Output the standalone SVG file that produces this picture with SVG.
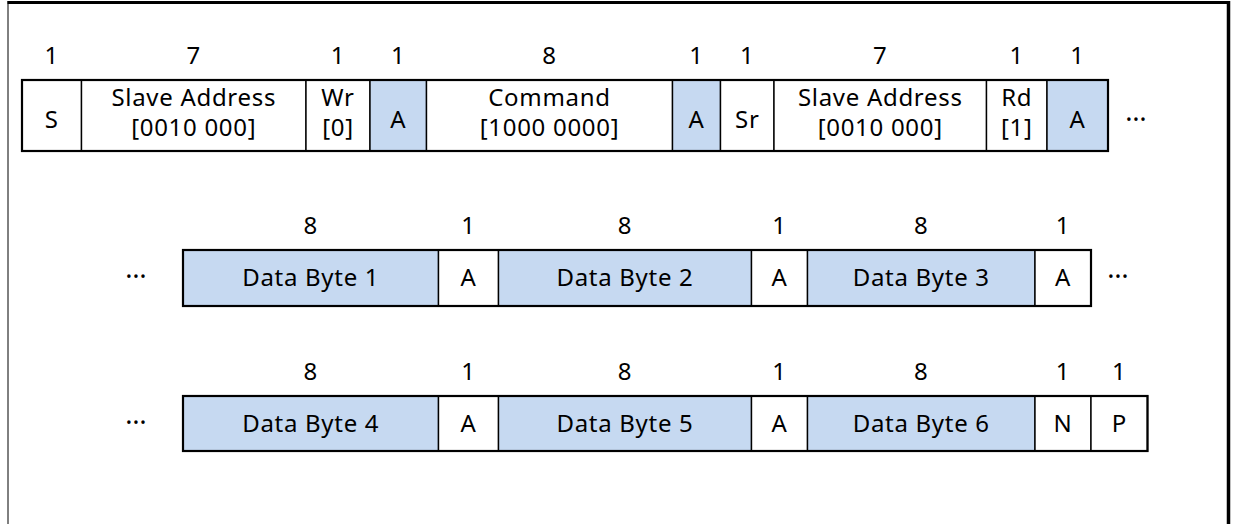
<svg xmlns="http://www.w3.org/2000/svg" width="1233" height="524" viewBox="0 0 1233 524">
  <style>
    text { font-family: "Noto Sans", "Open Sans", "DejaVu Sans", sans-serif; font-size: 24px; letter-spacing: 0.7px; fill: #000; text-anchor: middle; }
    text.more { font-size: 27px; letter-spacing: 0; }
    .cell { fill: #fff; stroke: #000; stroke-width: 1.4; }
    .ack { fill: #C6D9F1; stroke: #000; stroke-width: 1.4; }
    .row { fill: none; stroke: #000; stroke-width: 2.2; }
  </style>

  <!-- page frame -->
  <rect x="0" y="0" width="1233" height="524" fill="#fff"/>
  <g id="frame" stroke="#000">
    <line x1="7.5" y1="2.5" x2="1230" y2="2.5" stroke-width="3"/>
    <line x1="8" y1="1" x2="8" y2="524" stroke-width="1"/>
    <line x1="1228.5" y1="1" x2="1228.5" y2="524" stroke-width="3.5"/>
  </g>

  <!-- row 1: address phase -->
  <g id="row1">
    <g id="r1-start">
      <rect class="cell" x="22" y="80" width="59.5" height="71"/>
      <text x="51.75" y="64">1</text>
      <text x="51.75" y="128.3">S</text>
    </g>
    <g id="r1-addr-w">
      <rect class="cell" x="81.5" y="80" width="224.5" height="71"/>
      <text x="193.75" y="64">7</text>
      <text x="193.75" y="105.5">Slave Address</text>
      <text x="193.75" y="136">[0010 000]</text>
    </g>
    <g id="r1-wr">
      <rect class="cell" x="306" y="80" width="64" height="71"/>
      <text x="338" y="64">1</text>
      <text x="338" y="105.5">Wr</text>
      <text x="338" y="136">[0]</text>
    </g>
    <g id="r1-ack1">
      <rect class="ack" x="370" y="80" width="56.5" height="71"/>
      <text x="398.25" y="64">1</text>
      <text x="398.25" y="128.3">A</text>
    </g>
    <g id="r1-cmd">
      <rect class="cell" x="426.5" y="80" width="246" height="71"/>
      <text x="549.5" y="64">8</text>
      <text x="549.5" y="105.5">Command</text>
      <text x="549.5" y="136">[1000 0000]</text>
    </g>
    <g id="r1-ack2">
      <rect class="ack" x="672.5" y="80" width="48" height="71"/>
      <text x="696.5" y="64">1</text>
      <text x="696.5" y="128.3">A</text>
    </g>
    <g id="r1-restart">
      <rect class="cell" x="720.5" y="80" width="53.5" height="71"/>
      <text x="747.25" y="64">1</text>
      <text x="747.25" y="128.3">Sr</text>
    </g>
    <g id="r1-addr-r">
      <rect class="cell" x="774" y="80" width="212.5" height="71"/>
      <text x="880.25" y="64">7</text>
      <text x="880.25" y="105.5">Slave Address</text>
      <text x="880.25" y="136">[0010 000]</text>
    </g>
    <g id="r1-rd">
      <rect class="cell" x="986.5" y="80" width="60.5" height="71"/>
      <text x="1016.75" y="64">1</text>
      <text x="1016.75" y="105.5">Rd</text>
      <text x="1016.75" y="136">[1]</text>
    </g>
    <g id="r1-ack3">
      <rect class="ack" x="1047" y="80" width="61" height="71"/>
      <text x="1077.5" y="64">1</text>
      <text x="1077.5" y="128.3">A</text>
    </g>
    <rect class="row" x="22" y="80" width="1086" height="71"/>
    <text class="more" x="1136" y="121">…</text>
  </g>

  <!-- row 2: data bytes 1-3 -->
  <g id="row2">
    <text class="more" x="136" y="278">…</text>
    <g id="r2-db1">
      <rect class="ack" x="183" y="250" width="255.5" height="56"/>
      <text x="310.75" y="234">8</text>
      <text x="310.75" y="286">Data Byte 1</text>
    </g>
    <g id="r2-a1">
      <rect class="cell" x="438.5" y="250" width="60" height="56"/>
      <text x="468.5" y="234">1</text>
      <text x="468.5" y="286">A</text>
    </g>
    <g id="r2-db2">
      <rect class="ack" x="498.5" y="250" width="253" height="56"/>
      <text x="625" y="234">8</text>
      <text x="625" y="286">Data Byte 2</text>
    </g>
    <g id="r2-a2">
      <rect class="cell" x="751.5" y="250" width="56" height="56"/>
      <text x="779.5" y="234">1</text>
      <text x="779.5" y="286">A</text>
    </g>
    <g id="r2-db3">
      <rect class="ack" x="807.5" y="250" width="227.5" height="56"/>
      <text x="921.25" y="234">8</text>
      <text x="921.25" y="286">Data Byte 3</text>
    </g>
    <g id="r2-a3">
      <rect class="cell" x="1035" y="250" width="56" height="56"/>
      <text x="1063" y="234">1</text>
      <text x="1063" y="286">A</text>
    </g>
    <rect class="row" x="183" y="250" width="908" height="56"/>
    <text class="more" x="1118" y="278">…</text>
  </g>

  <!-- row 3: data bytes 4-6, NACK, stop -->
  <g id="row3">
    <text class="more" x="136" y="424">…</text>
    <g id="r3-db4">
      <rect class="ack" x="183" y="396" width="255.5" height="55"/>
      <text x="310.75" y="380">8</text>
      <text x="310.75" y="432">Data Byte 4</text>
    </g>
    <g id="r3-a4">
      <rect class="cell" x="438.5" y="396" width="60" height="55"/>
      <text x="468.5" y="380">1</text>
      <text x="468.5" y="432">A</text>
    </g>
    <g id="r3-db5">
      <rect class="ack" x="498.5" y="396" width="253" height="55"/>
      <text x="625" y="380">8</text>
      <text x="625" y="432">Data Byte 5</text>
    </g>
    <g id="r3-a5">
      <rect class="cell" x="751.5" y="396" width="56" height="55"/>
      <text x="779.5" y="380">1</text>
      <text x="779.5" y="432">A</text>
    </g>
    <g id="r3-db6">
      <rect class="ack" x="807.5" y="396" width="227.5" height="55"/>
      <text x="921.25" y="380">8</text>
      <text x="921.25" y="432">Data Byte 6</text>
    </g>
    <g id="r3-nack">
      <rect class="cell" x="1035" y="396" width="56" height="55"/>
      <text x="1063" y="380">1</text>
      <text x="1063" y="432">N</text>
    </g>
    <g id="r3-stop">
      <rect class="cell" x="1091" y="396" width="56.5" height="55"/>
      <text x="1119.25" y="380">1</text>
      <text x="1119.25" y="432">P</text>
    </g>
    <rect class="row" x="183" y="396" width="964.5" height="55"/>
  </g>
</svg>
